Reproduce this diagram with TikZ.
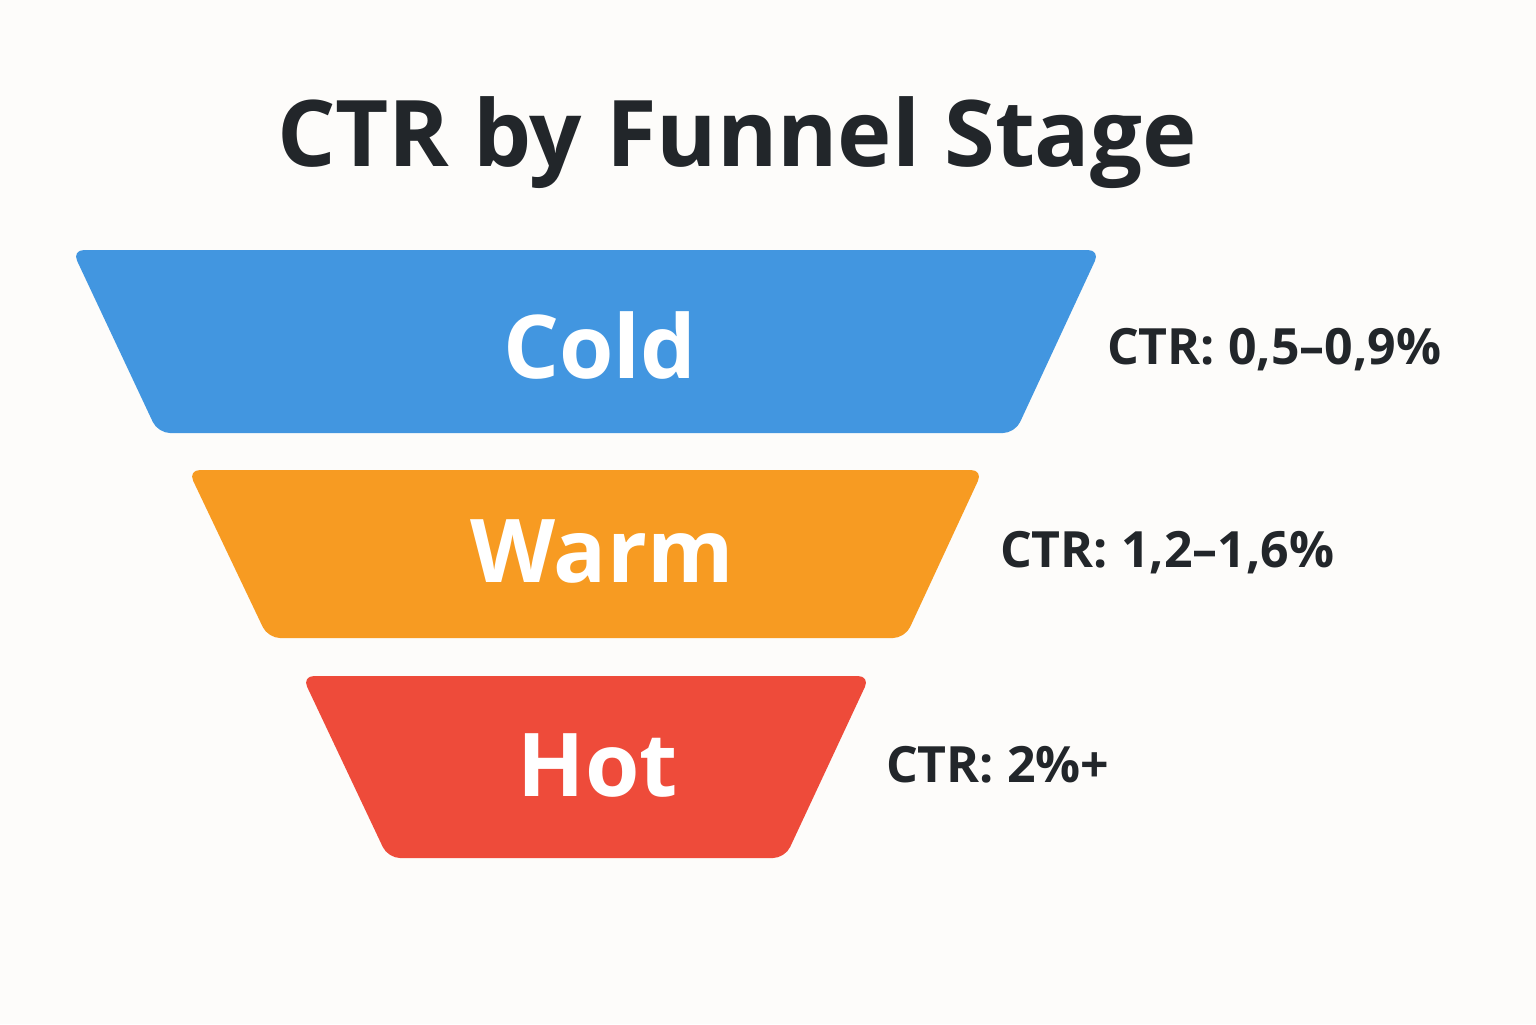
\documentclass[tikz,border=0pt]{standalone}
\usepackage{fontspec}
\setmainfont{Open Sans}
\usetikzlibrary{positioning}
\definecolor{ColdBlue}{HTML}{4296E0}
\definecolor{WarmOrange}{HTML}{F79B22}
\definecolor{HotRed}{HTML}{EE4B3A}
\definecolor{InkDark}{HTML}{22262A}
\definecolor{PaperBg}{HTML}{FDFCFA}

\begin{document}
\begin{tikzpicture}[x=0.5pt,y=-0.5pt,
	   every node/.style={text=InkDark},
	   stage/.style={rounded corners=6pt, draw=none},
	   stagename/.style={text=white, font=\fontsize{44}{48}\selectfont\bfseries},
	   ctrlabel/.style={anchor=west, font=\fontsize{25}{28}\selectfont\bfseries}]
	%% Canvas
	\fill[PaperBg] (0,0) rectangle (1536,1024);
	\useasboundingbox (0,0) rectangle (1536,1024);

	%% Title
	\node[font=\fontsize{46}{50}\selectfont\bfseries] (title) at (737,143) {CTR by Funnel Stage};

	%% Stages
	\fill[stage,ColdBlue] (72,250) -- (1100,250) -- (1015,433) -- (158,433) -- cycle;
	\fill[stage,WarmOrange] (188,470) -- (983,470) -- (905,638) -- (268,638) -- cycle;
	\fill[stage,HotRed] (302,676) -- (870,676) -- (785,858) -- (388,858) -- cycle;

	\node[stagename] (cold) at (600,345) {Cold};
	\node[stagename] (warm) at (602,552) {Warm};
	\node[stagename] (hot) at (598,766) {Hot};

	%% Rates
	\node[ctrlabel] (coldctr) at (1100,350) {CTR: 0,5–0,9\%};
	\node[ctrlabel] (warmctr) at (993,553) {CTR: 1,2–1,6\%};
	\node[ctrlabel] (hotctr) at (879,765) {CTR: 2\%+};
\end{tikzpicture}
\end{document}
